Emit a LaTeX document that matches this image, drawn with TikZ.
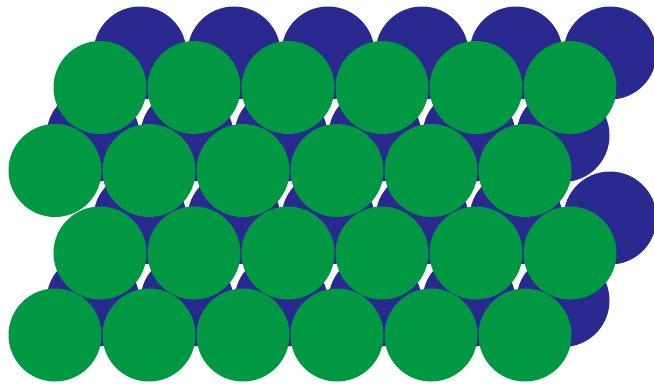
\documentclass[tikz,border=0pt]{standalone}
\definecolor{backblue}{RGB}{42,41,144}
\definecolor{frontgreen}{RGB}{0,152,66}
\tikzset{
  backball/.style={fill=backblue},
  frontball/.style={fill=frontgreen},
}
\begin{document}
\begin{tikzpicture}[x=1pt,y=-1pt]
\useasboundingbox (0,0) rectangle (654,384);
% back layer (blue)
\foreach \k in {0,...,5}{
  \fill[backball] ({140+94*\k},53) circle (46.5);
  \fill[backball] ({93+94*\k},135.5) circle (46.5);
  \fill[backball] ({140+94*\k},218) circle (46.5);
  \fill[backball] ({93+94*\k},300.5) circle (46.5);
}
% front layer (green)
\foreach \k in {0,...,5}{
  \fill[frontball] ({100+94*\k},87.5) circle (46.5);
  \fill[frontball] ({55+94*\k},170.5) circle (46.5);
  \fill[frontball] ({100+94*\k},253) circle (46.5);
  \fill[frontball] ({55+94*\k},335) circle (46.5);
}
\end{tikzpicture}
\end{document}
